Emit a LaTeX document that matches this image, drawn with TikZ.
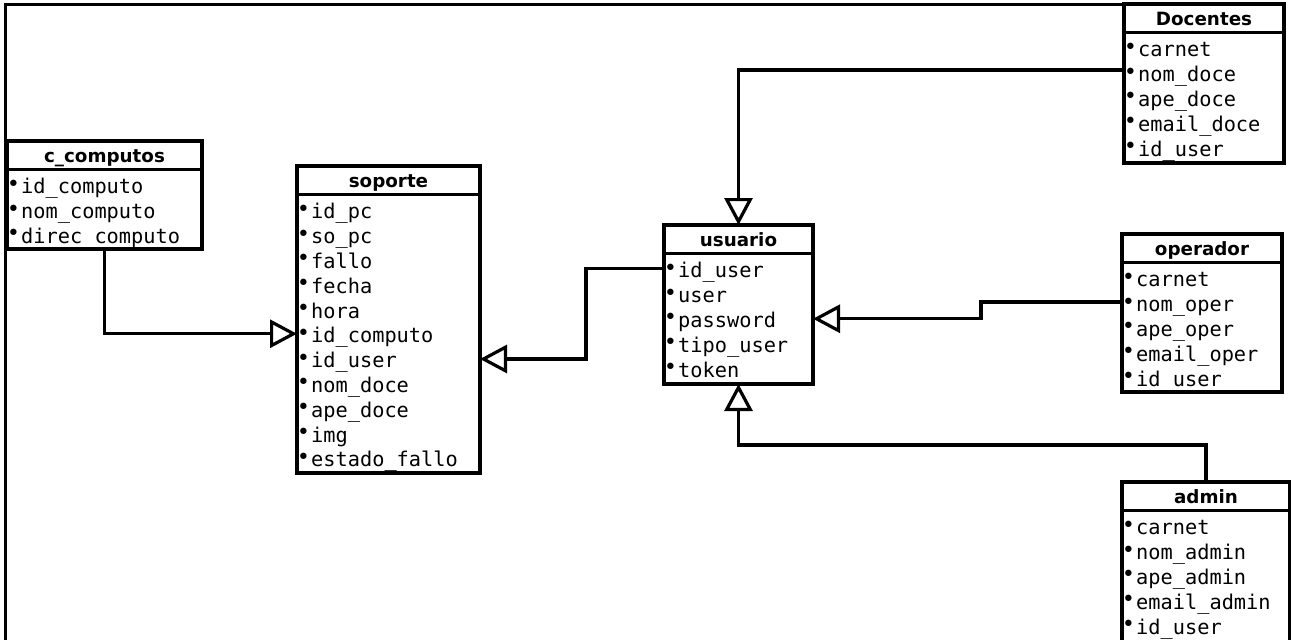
\documentclass[tikz,border=0pt]{standalone}
\usepackage{fontspec}
\setmainfont{DejaVu Sans}
\newfontfamily\monofont{DejaVu Sans Mono}
\usetikzlibrary{arrows.meta}

\tikzset{
  box/.style={draw=black, line width=3.4pt, fill=white, inner sep=0pt, outer sep=0pt, anchor=north west},
  hdrtext/.style={font=\fontsize{18.3}{20}\selectfont\bfseries, anchor=base, inner sep=0pt},
  rowtext/.style={font=\fontsize{20.3}{24}\monofont, anchor=base west, inner sep=0pt},
  inh/.style={line width=3.2pt, -{Triangle[open, length=27pt, width=28pt]}},
}

% small raised bullet in front of each attribute
\newcommand\bul{\makebox[15.5pt][l]{\hspace{1.2pt}\raisebox{2.6pt}{\fontsize{22}{22}\selectfont •}}}

% table: name, left, top, right, bottom, title, attributes
\newcommand\entity[7]{%
  \node[box, minimum width={(#4-#2)*1pt}, minimum height=28.5pt] (#1-h) at (#2,#3) {};
  \node[box, minimum width={(#4-#2)*1pt}, minimum height={(#5-#3-28.5)*1pt}] (#1) at (#1-h.south west) {};
  \node[hdrtext] at ([yshift=7pt]#1-h.south) {#6};
  \foreach \f [count=\i] in {#7}
    \node[rowtext] at ([shift={(-1.5,\i*24.8-0.5)}]#1.north west) {\bul\f};
}

\begin{document}
\begin{tikzpicture}[x=1pt, y=-1pt]
  \useasboundingbox (0,0) rectangle (1291,640);
  \fill[white] (0,0) rectangle (1291,640);

  % page frame
  \draw[line width=3pt] (5,642) -- (5,4) -- (1286,4);

  \entity{cc}{7}{141}{202}{249}{c\_computos}{id\_computo,nom\_computo,direc\_computo}
  \entity{sop}{297}{166}{480}{473}{soporte}{id\_pc,so\_pc,fallo,fecha,hora,id\_computo,id\_user,nom\_doce,ape\_doce,img,estado\_fallo}
  \entity{usu}{664}{225}{813}{384}{usuario}{id\_user,user,password,tipo\_user,token}
  \entity{doc}{1124}{4}{1284}{163}{Docentes}{carnet,nom\_doce,ape\_doce,email\_doce,id\_user}
  \entity{ope}{1122}{234}{1282}{392}{operador}{carnet,nom\_oper,ape\_oper,email\_oper,id\_user}
  \entity{adm}{1122}{482}{1290}{645}{admin}{carnet,nom\_admin,ape\_admin,email\_admin,id\_user}

  % generalisation links
  \draw[inh] (cc.south) |- (sop.west);
  \draw[inh] ([yshift=-15pt]usu.north west) -- ++(-78,0) |- (sop.east |- 0,359);
  \draw[inh] (doc.west |- 0,70) -| (usu-h.north);
  \draw[inh] (ope.west |- 0,302) -- (981,302) |- (usu.east);
  \draw[inh] (adm-h.north) -- ++(0,-37) -| (usu.south);
\end{tikzpicture}
\end{document}
